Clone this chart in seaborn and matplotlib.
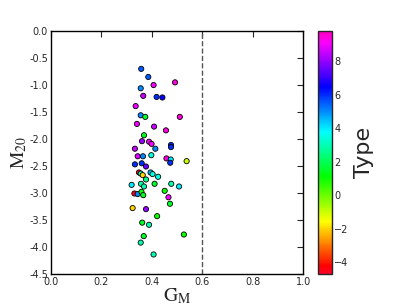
import numpy as np
import pandas as pd
import matplotlib
matplotlib.use("Agg")
import matplotlib.pyplot as plt
import seaborn as sns

# values
gini = [0.358, 0.386, 0.407, 0.492, 0.356, 0.366, 0.419, 0.442, 0.336, 0.356,
        0.374, 0.511, 0.341, 0.409, 0.456, 0.369, 0.361, 0.389, 0.399, 0.476,
        0.476, 0.333, 0.414, 0.344, 0.365, 0.398, 0.458, 0.475, 0.473, 0.538,
        0.333, 0.360, 0.377, 0.349, 0.356, 0.364, 0.395, 0.403, 0.425, 0.377,
        0.320, 0.357, 0.369, 0.411, 0.477, 0.508, 0.331, 0.344, 0.359, 0.366,
        0.451, 0.466, 0.472, 0.324, 0.377, 0.421, 0.362, 0.389, 0.368, 0.527,
        0.356, 0.407]
m20 = [-0.70, -0.85, -1.00, -0.95, -1.06, -1.20, -1.22, -1.23, -1.39, -1.56,
       -1.59, -1.59, -1.72, -1.77, -1.84, -1.93, -2.04, -2.05, -2.09, -2.11,
       -2.15, -2.18, -2.18, -2.32, -2.32, -2.30, -2.36, -2.38, -2.44, -2.41,
       -2.47, -2.45, -2.51, -2.62, -2.64, -2.67, -2.62, -2.65, -2.70, -2.75,
       -2.85, -2.83, -2.88, -2.83, -2.83, -2.88, -3.01, -3.02, -2.98, -3.04,
       -2.96, -3.08, -3.20, -3.28, -3.30, -3.43, -3.55, -3.59, -3.80, -3.77,
       -3.92, -4.14]
galaxy_type = [5.5, 5.5, 9.0, 9.5, 5.0, 8.5, 6.0, 6.5, 9.0, 5.0,
               1.5, 9.5, 9.0, 8.5, 9.5, 1.5, 8.0, 9.0, 9.0, 6.0,
               6.0, 8.5, 5.0, 8.8, 5.0, 3.5, 9.5, 4.0, 6.0, -1.0,
               6.0, 6.0, 7.5, -4.5, 3.0, -2.0, 4.5, 3.5, 3.5, 2.5,
               4.0, 3.0, 3.0, 1.5, 3.0, 4.0, -4.5, 5.0, 1.0, 1.5,
               1.0, 9.0, 1.5, -2.0, 8.0, 1.0, 1.5, 3.0, 1.5, 1.0,
               3.0, 3.0]
type_min, type_max = -4.7, 9.8
gini_cut = 0.6

df = pd.DataFrame({"G": gini, "M20": m20, "Type": galaxy_type})

sns.set_style("white")
plt.rcParams.update({
    "xtick.direction": "in", "ytick.direction": "in",
    "xtick.top": True, "ytick.right": True,
    "xtick.major.size": 4, "ytick.major.size": 4,
    "xtick.major.pad": 2, "ytick.major.pad": 2,
    "xtick.labelsize": 7, "ytick.labelsize": 7,
    "mathtext.fontset": "stix",
})
plt.rcParams["font.family"] = ["DejaVu Sans"]

fig = plt.figure(figsize=(4.07, 3.05), dpi=100)
ax = fig.add_axes([0.125, 0.102, 0.62, 0.796])
cax = fig.add_axes([0.781, 0.102, 0.034, 0.796])

norm = plt.Normalize(type_min, type_max)
sns.scatterplot(data=df, x="G", y="M20", hue="Type", palette="gist_rainbow",
                hue_norm=norm, legend=False, s=14, edgecolor="black",
                linewidth=0.6, ax=ax)
ax.axvline(gini_cut, color="#555555", linestyle="--", linewidth=1)

ax.set_xlim(0, 1)
ax.set_ylim(-4.5, 0)
ax.set_xticks(np.arange(0, 1.01, 0.2))
ax.set_yticks(np.arange(-4.5, 0.01, 0.5))
ax.xaxis.set_major_formatter(matplotlib.ticker.FormatStrFormatter("%.1f"))
ax.yaxis.set_major_formatter(matplotlib.ticker.FormatStrFormatter("%.1f"))
ax.set_xlabel(r"$\mathrm{G_M}$", fontsize=14, labelpad=0)
ax.set_ylabel(r"$\mathrm{M_{20}}$", fontsize=14, labelpad=0)
for sp in ax.spines.values():
    sp.set_color("black")
    sp.set_linewidth(1)

sm = plt.cm.ScalarMappable(cmap="gist_rainbow", norm=norm)
cb = fig.colorbar(sm, cax=cax, ticks=[-4, -2, 0, 2, 4, 6, 8])
cb.ax.tick_params(labelsize=7, direction="in", length=3, pad=2)
cb.set_label("Type", fontsize=16)
cb.outline.set_linewidth(1)

fig.savefig("out.png", dpi=100)
